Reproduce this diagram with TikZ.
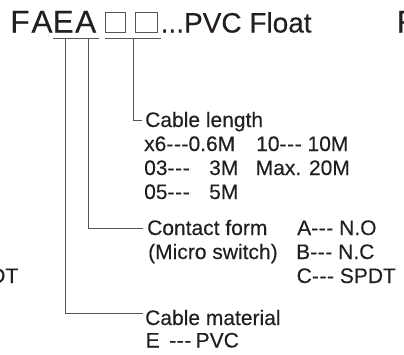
\documentclass[tikz,border=0pt]{standalone}
\usepackage{fontspec}
\setmainfont{Liberation Sans}[FakeBold=0.3]
\definecolor{ink}{HTML}{231F20}
\definecolor{ln}{HTML}{555555}
\newcommand\tri{-\kern.6pt-\kern.6pt-}
\begin{document}
\begin{tikzpicture}[x=1pt,y=-1pt,
  big/.style={inner sep=0pt,anchor=base west,font=\fontsize{31.5}{33}\selectfont,text=ink},
  mid/.style={inner sep=0pt,anchor=base west,font=\fontsize{28}{30}\selectfont,text=ink},
  lab/.style={inner sep=0pt,anchor=base west,font=\fontsize{21}{24}\selectfont,text=ink},
  conn/.style={draw=ln,line width=1pt},
  sqbox/.style={draw=ln,line width=0.8pt,inner sep=0pt,anchor=north west,minimum height=20pt}]
\useasboundingbox (0,0) rectangle (404,354);
\clip (0,0) rectangle (404,354);
% title
\node[big] (f1) at (10.2,32.5) {F};
\node[big] (a1) at (31.3,32.5) {A};
\node[big] (e1) at (52.5,32.5) {E};
\node[big] (a2) at (75,32.5) {A};
\node[sqbox,minimum width=20pt] (b1) at (105,12) {};
\node[sqbox,minimum width=22pt] (b2) at (135,12) {};
\node[mid] (pvc) at (160.5,32.5) {...PVC Float};
\node[big] (fr) at (396.5,32.5) {F};
% underlines and branch points
\coordinate (u1a) at (53,38.3);
\coordinate (u1b) at (99.3,38.3);
\coordinate (u2a) at (105,38.3);
\coordinate (u2b) at (161,38.3);
\coordinate (p1) at (65,38.3);
\coordinate (p2) at (88,38.3);
\coordinate (p3) at (133,38.3);
\draw[conn] (u1a) -- (u1b);
\draw[conn] (u2a) -- (u2b);
% labels: cable length
\node[lab] (len) at (145,127) {Cable length};
\node[lab] (r1a) at (144,151) {x6\tri0.6M};
\node[lab] (r1b) at (256,151) {10\tri\ 10M};
\node[lab] (r2a) at (144,175) {03\tri};
\node[lab] (r2b) at (209,175) {3M};
\node[lab] (r2c) at (255.5,175) {Max. 20M};
\node[lab] (r3a) at (144,199) {05\tri};
\node[lab] (r3b) at (209,199) {5M};
% contact form
\node[lab] (cf) at (147,235) {Contact form};
\node[lab] (ms) at (148,259) {(Micro switch)};
\node[lab] (co) at (297,235) {A\tri\ N.O};
\node[lab] (cc) at (296,259) {B\tri\ N.C};
\node[lab] (cs) at (296.5,283) {C\tri\ SPDT};
% cable material
\node[lab] (cm) at (145,325) {Cable material};
\node[lab] (em) at (145.5,347.5) {E};
\node[lab] (ed) at (169,347.5) {\tri};
\node[lab] (ep) at (195.5,347.5) {PVC};
% clipped neighbour text
\node[lab,anchor=base east] (sp) at (18.5,283) {SPDT};
% connectors
\coordinate (e3) at (142,120);
\coordinate (e2) at (143,228.3);
\coordinate (e1) at (143,313);
\draw[conn] (p3) |- (e3);
\draw[conn] (p2) |- (e2);
\draw[conn] (p1) |- (e1);
\end{tikzpicture}
\end{document}
